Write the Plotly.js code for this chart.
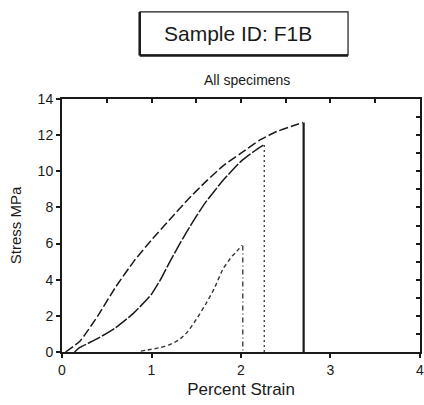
<!DOCTYPE html>
<html><head><meta charset="utf-8">
<script src="https://cdn.plot.ly/plotly-3.0.1.min.js"></script>
<style>html,body{margin:0;padding:0;background:#fff}#c{width:424px;height:405px}</style>
</head><body><div id="c"></div>
<script>
const s1x = [0.04,0.2,0.4,0.6,0.8,1.0,1.2,1.4,1.6,1.8,2.0,2.2,2.4,2.6,2.69];
const s1y = [0,0.6,2.0,3.6,5.0,6.2,7.3,8.4,9.4,10.3,11.0,11.7,12.2,12.55,12.7];
const s1dropX = [2.70,2.70];
const s1dropY = [12.7,0];
const s2x = [0.14,0.2,0.4,0.6,0.8,1.0,1.1,1.2,1.3,1.4,1.5,1.6,1.8,2.0,2.2,2.25];
const s2y = [0,0.25,0.75,1.35,2.15,3.2,4.0,4.95,5.85,6.7,7.5,8.25,9.5,10.55,11.3,11.45];
const s2dropX = [2.26,2.26];
const s2dropY = [11.45,0];
const s3x = [0.88,1.0,1.1,1.2,1.3,1.4,1.5,1.6,1.7,1.8,1.9,1.95,2.01];
const s3y = [0.05,0.15,0.25,0.4,0.65,1.1,1.8,2.6,3.5,4.6,5.3,5.55,5.9];
const s3dropX = [2.02,2.02];
const s3dropY = [5.9,0];
const xTicks = [0,1,2,3,4];
const yTicks = [0,2,4,6,8,10,12,14];

const F = 'Liberation Sans, Arial, sans-serif';
const C = '#1a1a1a';
const traces = [
  {x:s1x,y:s1y,mode:'lines',line:{color:C,width:1.5,dash:'9px,3px',shape:'spline',smoothing:0.5}},
  {x:s1dropX,y:s1dropY,mode:'lines',line:{color:C,width:2.2}},
  {x:s2x,y:s2y,mode:'lines',line:{color:C,width:1.5,dash:'14px,2px',shape:'spline',smoothing:0.5}},
  {x:s2dropX,y:s2dropY,mode:'lines',line:{color:'#333',width:1.3,dash:'2px,3px'}},
  {x:s3x,y:s3y,mode:'lines',line:{color:'#333',width:1.4,dash:'4px,3px',shape:'spline',smoothing:0.5}},
  {x:s3dropX,y:s3dropY,mode:'lines',line:{color:'#333',width:1.3,dash:'5px,3px,1px,3px'}},
  {x:[0],y:[0],xaxis:'x2',yaxis:'y2',mode:'markers',marker:{opacity:0},hoverinfo:'skip'}
];
const tf = {family:F,size:14,color:C};
const layout = {
  width:424,height:405,
  margin:{l:62,r:4,t:99,b:53},
  paper_bgcolor:'#fff',plot_bgcolor:'#fff',
  showlegend:false,
  font:{family:F,color:C},
  xaxis:{range:[0,4.0001],tickvals:xTicks,ticks:'outside',ticklen:4,tickwidth:2,tickcolor:C,
    showline:true,linecolor:C,linewidth:2,mirror:true,showgrid:false,zeroline:false,
    ticklabeloverflow:'allow',tickfont:tf,
    title:{text:'Percent Strain',font:{family:F,size:17,color:C},standoff:6}},
  yaxis:{range:[0,14],tickvals:yTicks,ticks:'outside',ticklen:4,tickwidth:2,tickcolor:C,
    showline:true,linecolor:C,linewidth:2,mirror:true,showgrid:false,zeroline:false,
    tickfont:tf,
    title:{text:'Stress MPa',font:{family:F,size:15,color:C},standoff:12}},
  xaxis2:{overlaying:'x',side:'top',range:[0,4.0001],tickvals:[0.5,1,1.5,2,2.5,3,3.5],ticks:'inside',ticklen:4,tickwidth:2,tickcolor:C,
    showticklabels:false,showgrid:false,zeroline:false,showline:false},
  yaxis2:{overlaying:'y',side:'right',range:[0,14],tickvals:[1,2,3,4,5,6,7,8,9,10,11,12,13],ticks:'inside',ticklen:4,tickwidth:2,tickcolor:C,
    showticklabels:false,showgrid:false,zeroline:false,showline:false},
  shapes:[
    {type:'rect',xref:'paper',yref:'paper',x0:0.218,x1:0.799,y0:1.174,y1:1.344,line:{color:C,width:1.2},fillcolor:'rgba(0,0,0,0)'},
    {type:'line',xref:'paper',yref:'paper',x0:0.217,x1:0.217,y0:1.172,y1:1.344,line:{color:C,width:2.5}},
    {type:'line',xref:'paper',yref:'paper',x0:0.217,x1:0.799,y0:1.172,y1:1.172,line:{color:C,width:2.5}}
  ],
  annotations:[
    {xref:'paper',yref:'paper',x:0.493,y:1.257,xanchor:'center',yanchor:'middle',
     text:'Sample ID: F1B',showarrow:false,font:{family:F,size:21,color:C}},
    {xref:'paper',yref:'paper',x:0.517,y:1.075,xanchor:'center',yanchor:'middle',
     text:'All specimens',showarrow:false,font:{family:F,size:14,color:C}}
  ]
};
Plotly.newPlot('c',traces,layout,{displayModeBar:false,staticPlot:true});
</script></body></html>
